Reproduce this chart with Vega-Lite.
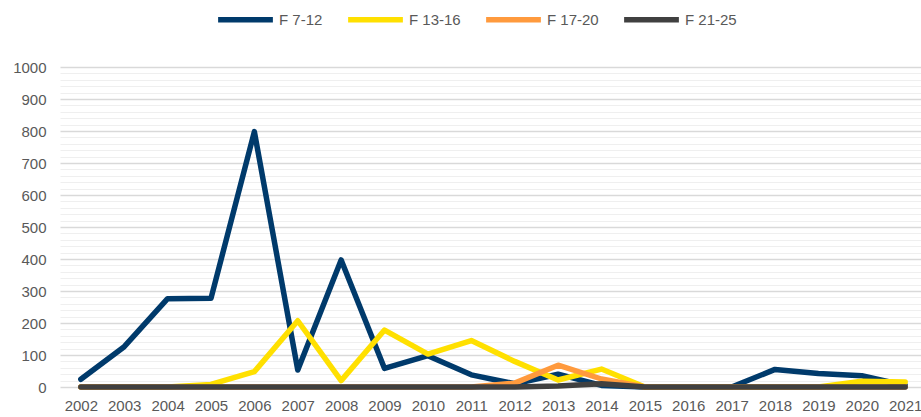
{
  "$schema": "https://vega.github.io/schema/vega-lite/v6.json",
  "width": 866,
  "height": 320,
  "autosize": {"type": "none"},
  "padding": {"left": 60, "top": 67, "right": 0, "bottom": 30},
  "background": "white",
  "config": {
    "view": {"stroke": null},
    "font": "Liberation Sans",
    "axis": {"labelFont": "Liberation Sans", "labelColor": "#595959", "labelFontSize": 15}
  },
  "data": {
    "values": [
      {"year": "2002", "series": "F 7-12", "value": 24},
      {"year": "2003", "series": "F 7-12", "value": 126},
      {"year": "2004", "series": "F 7-12", "value": 276},
      {"year": "2005", "series": "F 7-12", "value": 277},
      {"year": "2006", "series": "F 7-12", "value": 798},
      {"year": "2007", "series": "F 7-12", "value": 53},
      {"year": "2008", "series": "F 7-12", "value": 397},
      {"year": "2009", "series": "F 7-12", "value": 58},
      {"year": "2010", "series": "F 7-12", "value": 98},
      {"year": "2011", "series": "F 7-12", "value": 38},
      {"year": "2012", "series": "F 7-12", "value": 10},
      {"year": "2013", "series": "F 7-12", "value": 40},
      {"year": "2014", "series": "F 7-12", "value": 5},
      {"year": "2015", "series": "F 7-12", "value": 0},
      {"year": "2016", "series": "F 7-12", "value": 0},
      {"year": "2017", "series": "F 7-12", "value": 0},
      {"year": "2018", "series": "F 7-12", "value": 55},
      {"year": "2019", "series": "F 7-12", "value": 42},
      {"year": "2020", "series": "F 7-12", "value": 35},
      {"year": "2021", "series": "F 7-12", "value": 5},
      {"year": "2002", "series": "F 13-16", "value": 0},
      {"year": "2003", "series": "F 13-16", "value": 0},
      {"year": "2004", "series": "F 13-16", "value": 0},
      {"year": "2005", "series": "F 13-16", "value": 8},
      {"year": "2006", "series": "F 13-16", "value": 48},
      {"year": "2007", "series": "F 13-16", "value": 207},
      {"year": "2008", "series": "F 13-16", "value": 20},
      {"year": "2009", "series": "F 13-16", "value": 178},
      {"year": "2010", "series": "F 13-16", "value": 103},
      {"year": "2011", "series": "F 13-16", "value": 145},
      {"year": "2012", "series": "F 13-16", "value": 80},
      {"year": "2013", "series": "F 13-16", "value": 22},
      {"year": "2014", "series": "F 13-16", "value": 56},
      {"year": "2015", "series": "F 13-16", "value": 0},
      {"year": "2016", "series": "F 13-16", "value": 0},
      {"year": "2017", "series": "F 13-16", "value": 0},
      {"year": "2018", "series": "F 13-16", "value": 0},
      {"year": "2019", "series": "F 13-16", "value": 0},
      {"year": "2020", "series": "F 13-16", "value": 18},
      {"year": "2021", "series": "F 13-16", "value": 16},
      {"year": "2002", "series": "F 17-20", "value": 0},
      {"year": "2003", "series": "F 17-20", "value": 0},
      {"year": "2004", "series": "F 17-20", "value": 0},
      {"year": "2005", "series": "F 17-20", "value": 0},
      {"year": "2006", "series": "F 17-20", "value": 0},
      {"year": "2007", "series": "F 17-20", "value": 0},
      {"year": "2008", "series": "F 17-20", "value": 0},
      {"year": "2009", "series": "F 17-20", "value": 0},
      {"year": "2010", "series": "F 17-20", "value": 0},
      {"year": "2011", "series": "F 17-20", "value": 0},
      {"year": "2012", "series": "F 17-20", "value": 12},
      {"year": "2013", "series": "F 17-20", "value": 68},
      {"year": "2014", "series": "F 17-20", "value": 25},
      {"year": "2015", "series": "F 17-20", "value": 0},
      {"year": "2016", "series": "F 17-20", "value": 0},
      {"year": "2017", "series": "F 17-20", "value": 0},
      {"year": "2018", "series": "F 17-20", "value": 0},
      {"year": "2019", "series": "F 17-20", "value": 0},
      {"year": "2020", "series": "F 17-20", "value": 0},
      {"year": "2021", "series": "F 17-20", "value": 0},
      {"year": "2002", "series": "F 21-25", "value": 0},
      {"year": "2003", "series": "F 21-25", "value": 0},
      {"year": "2004", "series": "F 21-25", "value": 0},
      {"year": "2005", "series": "F 21-25", "value": 0},
      {"year": "2006", "series": "F 21-25", "value": 0},
      {"year": "2007", "series": "F 21-25", "value": 0},
      {"year": "2008", "series": "F 21-25", "value": 0},
      {"year": "2009", "series": "F 21-25", "value": 0},
      {"year": "2010", "series": "F 21-25", "value": 0},
      {"year": "2011", "series": "F 21-25", "value": 0},
      {"year": "2012", "series": "F 21-25", "value": 0},
      {"year": "2013", "series": "F 21-25", "value": 3},
      {"year": "2014", "series": "F 21-25", "value": 10},
      {"year": "2015", "series": "F 21-25", "value": 0},
      {"year": "2016", "series": "F 21-25", "value": 0},
      {"year": "2017", "series": "F 21-25", "value": 0},
      {"year": "2018", "series": "F 21-25", "value": 0},
      {"year": "2019", "series": "F 21-25", "value": 0},
      {"year": "2020", "series": "F 21-25", "value": 0},
      {"year": "2021", "series": "F 21-25", "value": 0}
    ]
  },
  "mark": {"type": "line", "strokeWidth": 5.5, "strokeCap": "round", "strokeJoin": "round", "clip": false},
  "encoding": {
    "x": {
      "field": "year",
      "type": "ordinal",
      "scale": {"type": "point", "padding": 0.48},
      "axis": {
        "title": null,
        "labelAngle": 0,
        "ticks": false,
        "domain": false,
        "labelPadding": 11,
        "grid": false
      }
    },
    "y": {
      "field": "value",
      "type": "quantitative",
      "scale": {"domain": [0, 1000], "nice": false},
      "axis": {
        "title": null,
        "format": "d",
        "values": [0,20,40,60,80,100,120,140,160,180,200,220,240,260,280,300,320,340,360,380,400,420,440,460,480,500,520,540,560,580,600,620,640,660,680,700,720,740,760,780,800,820,840,860,880,900,920,940,960,980,1000],
        "labelExpr": "datum.value % 100 === 0 ? datum.label : ''",
        "ticks": false,
        "domain": false,
        "labelPadding": 14,
        "gridColor": {"condition": {"test": "datum.value % 100 === 0", "value": "#d9d9d9"}, "value": "#efefef"},
        "gridWidth": {"condition": {"test": "datum.value % 100 === 0", "value": 1.5}, "value": 1}
      }
    },
    "color": {
      "field": "series",
      "type": "nominal",
      "sort": ["F 7-12", "F 13-16", "F 17-20", "F 21-25"],
      "scale": {
        "domain": ["F 7-12", "F 13-16", "F 17-20", "F 21-25"],
        "range": ["#003A6B", "#FFE000", "#FF9A3D", "#404040"]
      },
      "legend": {
        "title": null,
        "orient": "none",
        "direction": "horizontal",
        "legendX": 155,
        "legendY": -78,
        "symbolType": "stroke",
        "symbolSize": 3000,
        "symbolStrokeWidth": 5.5,
        "labelFontSize": 15,
        "labelColor": "#595959",
        "labelFont": "Liberation Sans",
        "labelOffset": 3,
        "columnPadding": 14
      }
    },
    "order": {"field": "year"}
  }
}
